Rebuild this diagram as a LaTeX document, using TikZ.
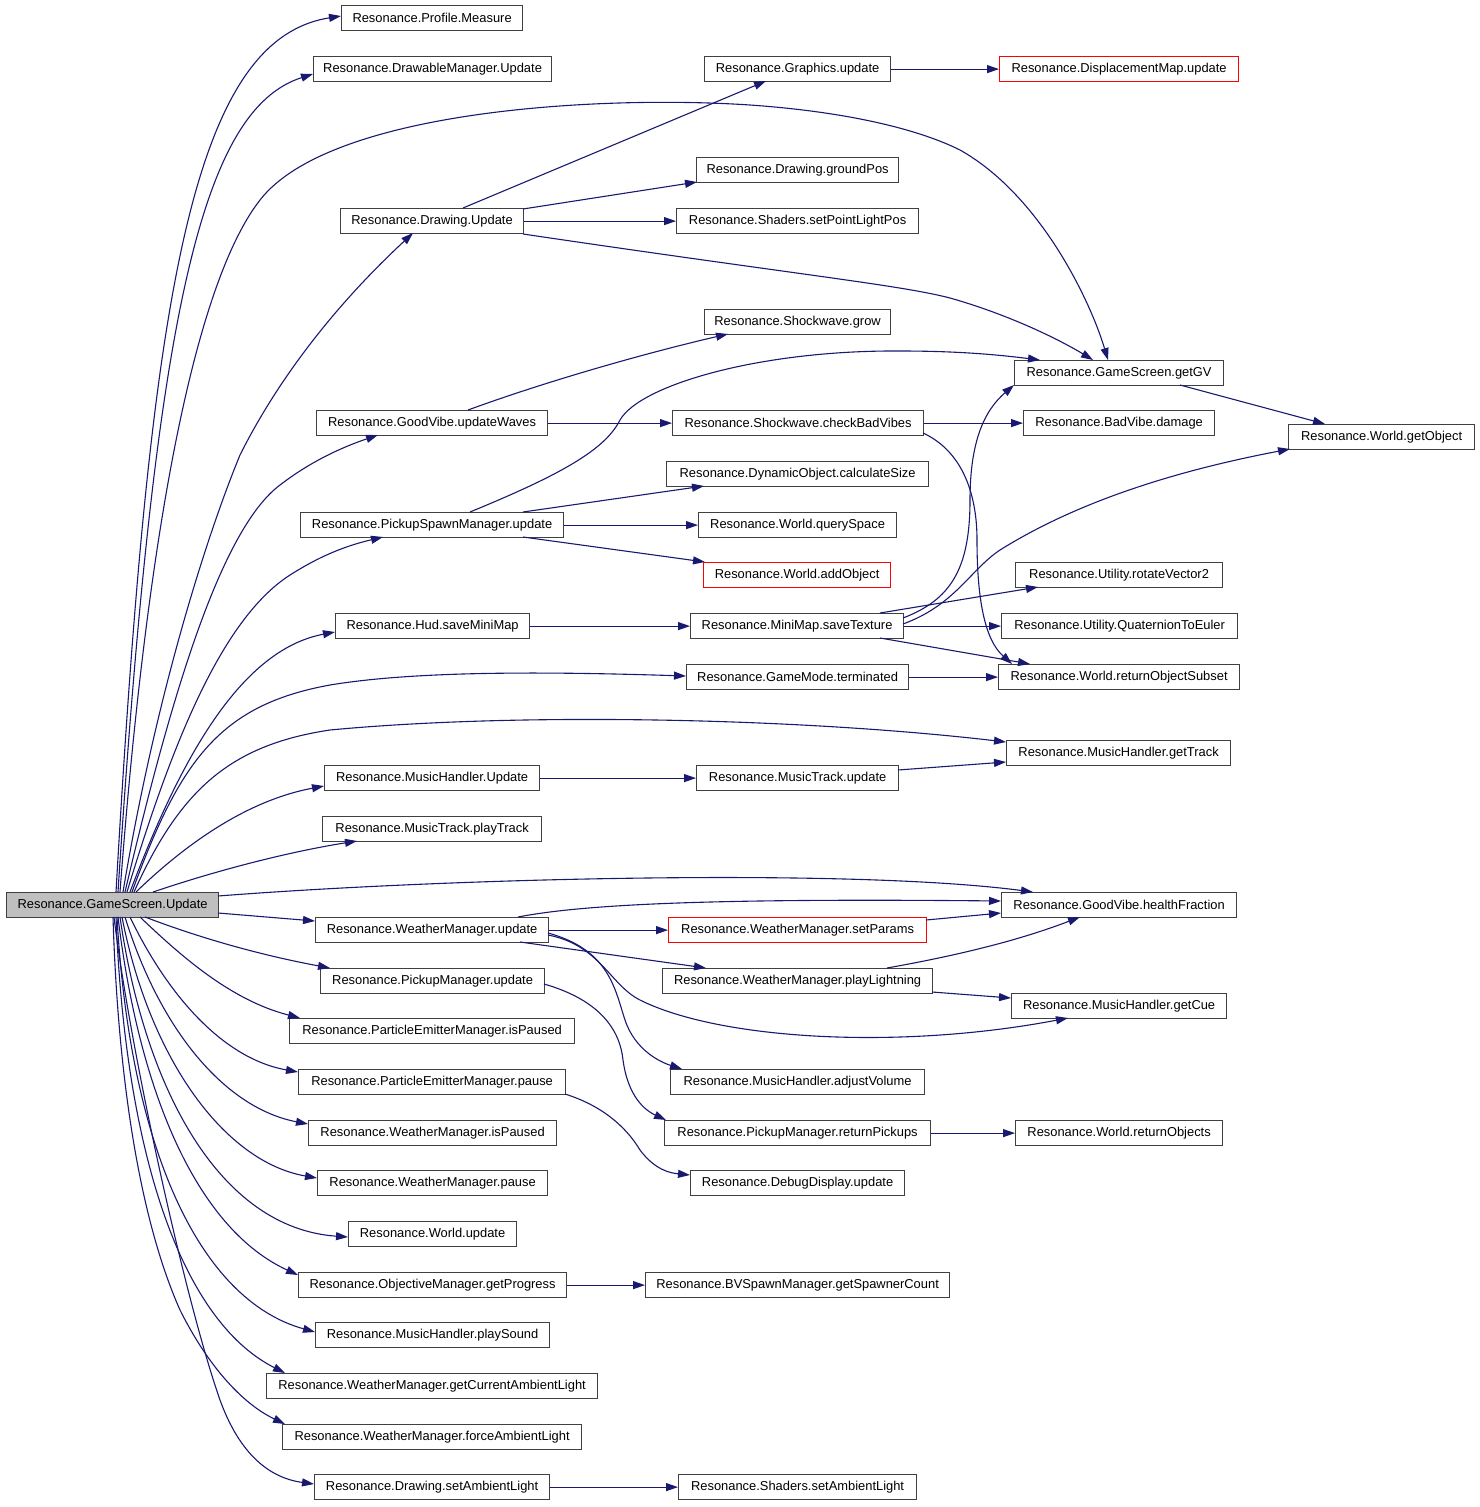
\documentclass[tikz,border=0pt]{standalone}
\usepackage{fontspec}
\setmainfont{Liberation Sans}
\usetikzlibrary{arrows.meta,calc}
\definecolor{edgec}{HTML}{191970}
\definecolor{boxc}{HTML}{404040}
\definecolor{rootfill}{HTML}{BFBFBF}
\begin{document}
\begin{tikzpicture}[x=1pt,y=-1pt,
  box/.style={draw=boxc, line width=1.2pt, fill=white, inner sep=0pt, minimum height=25pt,
    anchor=north west, text=black, font=\fontsize{12.9pt}{15pt}\selectfont},
  redbox/.style={box, draw=red},
  arr/.style={draw=edgec, line width=1.1pt, -{Triangle[length=12pt,width=8pt]}}]
\fill[white] (0,0) rectangle (1480,1507);
\useasboundingbox (0,0) rectangle (1480,1507);
% root
\node[box, minimum width=212pt, fill=rootfill] (root) at (6,892) {Resonance.GameScreen.Update};
% column 2
\node[box, minimum width=181pt] (pm) at (341,5) {Resonance.Profile.Measure};
\node[box, minimum width=238pt] (dmu) at (313,56) {Resonance.DrawableManager.Update};
\node[box, minimum width=183pt] (du) at (340,208) {Resonance.Drawing.Update};
\node[box, minimum width=231pt] (gvu) at (316,410) {Resonance.GoodVibe.updateWaves};
\node[box, minimum width=263pt] (psm) at (300,512) {Resonance.PickupSpawnManager.update};
\node[box, minimum width=194pt] (hud) at (335,613) {Resonance.Hud.saveMiniMap};
\node[box, minimum width=215pt] (mhu) at (324,765) {Resonance.MusicHandler.Update};
\node[box, minimum width=219pt] (mtp) at (322,816) {Resonance.MusicTrack.playTrack};
\node[box, minimum width=233pt] (wmu) at (315,917) {Resonance.WeatherManager.update};
\node[box, minimum width=224pt] (pmu) at (320,968) {Resonance.PickupManager.update};
\node[box, minimum width=285pt] (pei) at (289,1018) {Resonance.ParticleEmitterManager.isPaused};
\node[box, minimum width=267pt] (pep) at (298,1069) {Resonance.ParticleEmitterManager.pause};
\node[box, minimum width=248pt] (wmi) at (308,1120) {Resonance.WeatherManager.isPaused};
\node[box, minimum width=230pt] (wmp) at (317,1170) {Resonance.WeatherManager.pause};
\node[box, minimum width=168pt] (wu) at (348,1221) {Resonance.World.update};
\node[box, minimum width=268pt] (omg) at (298,1272) {Resonance.ObjectiveManager.getProgress};
\node[box, minimum width=234pt] (mhp) at (315,1322) {Resonance.MusicHandler.playSound};
\node[box, minimum width=331pt] (wmc) at (266,1373) {Resonance.WeatherManager.getCurrentAmbientLight};
\node[box, minimum width=299pt] (wmf) at (282,1424) {Resonance.WeatherManager.forceAmbientLight};
\node[box, minimum width=235pt] (dsa) at (314,1474) {Resonance.Drawing.setAmbientLight};
% column 3
\node[box, minimum width=186pt] (gu) at (704,56) {Resonance.Graphics.update};
\node[box, minimum width=202pt] (dgp) at (696,157) {Resonance.Drawing.groundPos};
\node[box, minimum width=242pt] (spl) at (676,208) {Resonance.Shaders.setPointLightPos};
\node[box, minimum width=186pt] (swg) at (704,309) {Resonance.Shockwave.grow};
\node[box, minimum width=251pt] (swc) at (672,410) {Resonance.Shockwave.checkBadVibes};
\node[box, minimum width=262pt] (doc) at (666,461) {Resonance.DynamicObject.calculateSize};
\node[box, minimum width=198pt] (wqs) at (698,512) {Resonance.World.querySpace};
\node[redbox, minimum width=187pt] (wao) at (703,562) {Resonance.World.addObject};
\node[box, minimum width=213pt] (mst) at (690,613) {Resonance.MiniMap.saveTexture};
\node[box, minimum width=222pt] (gmt) at (686,664) {Resonance.GameMode.terminated};
\node[box, minimum width=202pt] (mtu) at (696,765) {Resonance.MusicTrack.update};
\node[redbox, minimum width=258pt] (wsp) at (668,917) {Resonance.WeatherManager.setParams};
\node[box, minimum width=270pt] (wpl) at (662,968) {Resonance.WeatherManager.playLightning};
\node[box, minimum width=254pt] (mav) at (670,1069) {Resonance.MusicHandler.adjustVolume};
\node[box, minimum width=266pt] (prp) at (664,1120) {Resonance.PickupManager.returnPickups};
\node[box, minimum width=214pt] (ddu) at (690,1170) {Resonance.DebugDisplay.update};
\node[box, minimum width=304pt] (bvs) at (645,1272) {Resonance.BVSpawnManager.getSpawnerCount};
\node[box, minimum width=238pt] (ssa) at (678,1474) {Resonance.Shaders.setAmbientLight};
% column 4
\node[redbox, minimum width=239pt] (dmp) at (999,56) {Resonance.DisplacementMap.update};
\node[box, minimum width=209pt] (ggv) at (1014,360) {Resonance.GameScreen.getGV};
\node[box, minimum width=191pt] (bvd) at (1023,410) {Resonance.BadVibe.damage};
\node[box, minimum width=207pt] (urv) at (1015,562) {Resonance.Utility.rotateVector2};
\node[box, minimum width=236pt] (uqe) at (1001,613) {Resonance.Utility.QuaternionToEuler};
\node[box, minimum width=241pt] (ros) at (998,664) {Resonance.World.returnObjectSubset};
\node[box, minimum width=224pt] (mgt) at (1006,740) {Resonance.MusicHandler.getTrack};
\node[box, minimum width=235pt] (ghf) at (1001,892) {Resonance.GoodVibe.healthFraction};
\node[box, minimum width=215pt] (mgc) at (1011,993) {Resonance.MusicHandler.getCue};
\node[box, minimum width=207pt] (wro) at (1015,1120) {Resonance.World.returnObjects};
% column 5
\node[box, minimum width=186pt] (wgo) at (1288,424) {Resonance.World.getObject};

% ---- edges from root (upwards)
\draw[arr] ($(root.north west)+(110,0)$) .. controls (150,300) and (190,40) .. ($(pm.north west)+(0,11)$);
\draw[arr] ($(root.north west)+(112,0)$) .. controls (155,320) and (200,110) .. ($(dmu.north west)+(0,18)$);
\draw[arr] ($(root.north west)+(114,0)$) .. controls (145,560) and (190,290) .. (260,200)
  .. controls (330,110) and (600,95) .. (750,105) .. controls (850,112) and (920,130) .. (960,150)
  .. controls (1040,195) and (1090,300) .. ($(ggv.north west)+(94,0)$);
\draw[arr] ($(root.north west)+(117,0)$) .. controls (155,700) and (205,540) .. (240,455)
  .. controls (275,385) and (330,310) .. ($(du.north west)+(73,25)$);
\draw[arr] ($(root.north west)+(119,0)$) .. controls (170,700) and (220,530) .. (280,485)
  .. controls (310,462) and (340,448) .. ($(gvu.north west)+(62,25)$);
\draw[arr] ($(root.north west)+(121,0)$) .. controls (170,750) and (220,620) .. (290,575)
  .. controls (320,556) and (345,546) .. ($(psm.north west)+(83,25)$);
\draw[arr] ($(root.north west)+(124,0)$) .. controls (180,760) and (240,650) .. ($(hud.north west)+(0,19)$);
\draw[arr] ($(root.north west)+(126,0)$) .. controls (180,760) and (220,705) .. (330,685)
  .. controls (420,670) and (560,672) .. ($(gmt.north west)+(0,12)$);
\draw[arr] ($(root.north west)+(128,0)$) .. controls (180,790) and (230,745) .. (330,730)
  .. controls (520,712) and (800,718) .. ($(mgt.north west)+(0,2)$);
\draw[arr] ($(root.north west)+(130,0)$) .. controls (190,840) and (250,800) .. ($(mhu.north west)+(0,21)$);
\draw[arr] ($(root.north west)+(147,0)$) .. controls (230,866) and (300,850) .. ($(mtp.north west)+(35,25)$);
\draw[arr] ($(root.north west)+(212,4)$) .. controls (450,878) and (850,868) .. ($(ghf.north west)+(32,0)$);
\draw[arr] ($(root.north west)+(212,21)$) -- ($(wmu.north west)+(0,4)$);
% ---- edges from root (downwards)
\draw[arr] ($(root.north west)+(139,25)$) .. controls (200,938) and (260,955) .. ($(pmu.north west)+(10,0)$);
\draw[arr] ($(root.north west)+(134,25)$) .. controls (180,955) and (230,1000) .. ($(pei.north west)+(11,0)$);
\draw[arr] ($(root.north west)+(124,25)$) .. controls (165,990) and (220,1058) .. ($(pep.north west)+(0,3)$);
\draw[arr] ($(root.north west)+(119,25)$) .. controls (160,1030) and (225,1108) .. ($(wmi.north west)+(0,4)$);
\draw[arr] ($(root.north west)+(116,25)$) .. controls (150,1060) and (225,1162) .. ($(wmp.north west)+(0,8)$);
\draw[arr] ($(root.north west)+(114,25)$) .. controls (145,1090) and (220,1228) .. ($(wu.north west)+(0,16)$);
\draw[arr] ($(root.north west)+(112,25)$) .. controls (140,1100) and (200,1230) .. ($(omg.north west)+(0,3)$);
\draw[arr] ($(root.north west)+(111,25)$) .. controls (130,1150) and (200,1300) .. ($(mhp.north west)+(0,10)$);
\draw[arr] ($(root.north west)+(110,25)$) .. controls (125,1150) and (180,1320) .. ($(wmc.north west)+(19,0)$);
\draw[arr] ($(root.north west)+(107,25)$) .. controls (118,1080) and (140,1220) .. (180,1310)
  .. controls (210,1370) and (245,1405) .. ($(wmf.north west)+(3,0)$);
\draw[arr] ($(root.north west)+(108,25)$) .. controls (130,1050) and (185,1300) .. (220,1400)
  .. controls (240,1455) and (270,1478) .. ($(dsa.north west)+(0,10)$);

% ---- Drawing.Update
\draw[arr] ($(du.north west)+(123,0)$) -- ($(gu.north west)+(62,25)$);
\draw[arr] ($(du.north west)+(183,1)$) -- ($(dgp.north west)+(1,25)$);
\draw[arr] (du.east) -- (spl.west);
\draw[arr] ($(du.north west)+(183,26)$) .. controls (800,275) and (900,285) .. (950,298)
  .. controls (1010,315) and (1060,340) .. ($(ggv.north west)+(79,0)$);
\draw[arr] (gu.east) -- (dmp.west);
% ---- GoodVibe.updateWaves
\draw[arr] ($(gvu.north west)+(152,0)$) .. controls (550,380) and (650,352) .. ($(swg.north west)+(24,25)$);
\draw[arr] (gvu.east) -- (swc.west);
\draw[arr] (swc.east) -- (bvd.west);
\draw[arr] ($(swc.north west)+(251,23)$) .. controls (960,450) and (977,490) .. (977,540)
  .. controls (977,600) and (985,640) .. ($(ros.north west)+(14,0)$);
% ---- PickupSpawnManager.update
\draw[arr] ($(psm.north west)+(170,0)$) .. controls (560,475) and (605,450) .. (620,420)
  .. controls (640,385) and (760,350) .. (900,351) .. controls (960,351) and (1000,355) .. ($(ggv.north west)+(26,0)$);
\draw[arr] ($(psm.north west)+(223,0)$) -- ($(doc.north west)+(38,25)$);
\draw[arr] (psm.east) -- (wqs.west);
\draw[arr] ($(psm.north west)+(223,25)$) -- ($(wao.north west)+(2,0)$);
% ---- Hud / MiniMap
\draw[arr] (hud.east) -- (mst.west);
\draw[arr] ($(mst.north west)+(190,0)$) -- ($(urv.north west)+(23,25)$);
\draw[arr] (mst.east) -- (uqe.west);
\draw[arr] ($(mst.north west)+(190,25)$) -- ($(ros.north west)+(32,0)$);
\draw[arr] ($(mst.north west)+(213,5)$) .. controls (950,600) and (970,570) .. (970,500)
  .. controls (970,440) and (985,410) .. ($(ggv.north west)+(0,25)$);
\draw[arr] ($(mst.north west)+(213,11)$) .. controls (955,605) and (970,570) .. (1000,550)
  .. controls (1080,500) and (1180,470) .. ($(wgo.north west)+(2,25)$);
\draw[arr] ($(ggv.north west)+(166,25)$) -- ($(wgo.north west)+(37,0)$);
\draw[arr] (gmt.east) -- (ros.west);
% ---- Music
\draw[arr] (mhu.east) -- (mtu.west);
\draw[arr] ($(mtu.north west)+(202,5)$) -- ($(mgt.north west)+(0,22)$);
% ---- WeatherManager.update
\draw[arr] ($(wmu.north west)+(203,0)$) .. controls (580,905) and (700,898) .. ($(ghf.north west)+(0,9)$);
\draw[arr] (wmu.east) -- (wsp.west);
\draw[arr] ($(wmu.north west)+(205,25)$) -- ($(wpl.north west)+(44,0)$);
\draw[arr] ($(wmu.north west)+(233,18)$) .. controls (600,945) and (610,985) .. (640,1000)
  .. controls (720,1040) and (900,1050) .. ($(mgc.north west)+(57,25)$);
\draw[arr] ($(wmu.north west)+(233,16)$) .. controls (610,950) and (615,990) .. (625,1020)
  .. controls (635,1050) and (660,1062) .. ($(mav.north west)+(12,0)$);
\draw[arr] ($(wsp.north west)+(258,3)$) -- ($(ghf.north west)+(0,21)$);
\draw[arr] ($(wpl.north west)+(225,0)$) .. controls (960,955) and (1020,940) .. ($(ghf.north west)+(79,25)$);
\draw[arr] ($(wpl.north west)+(270,24)$) -- ($(mgc.north west)+(0,5)$);
% ---- PickupManager / Particle / Objective / Drawing
\draw[arr] ($(pmu.north west)+(224,16)$) .. controls (600,1000) and (620,1030) .. (623,1060)
  .. controls (627,1090) and (640,1108) .. ($(prp.north west)+(2,0)$);
\draw[arr] (prp.east) -- (wro.west);
\draw[arr] ($(pep.north west)+(267,25)$) .. controls (600,1105) and (625,1125) .. (640,1150)
  .. controls (655,1170) and (670,1173) .. ($(ddu.north west)+(0,5)$);
\draw[arr] (omg.east) -- (bvs.west);
\draw[arr] (dsa.east) -- (ssa.west);
\end{tikzpicture}
\end{document}
